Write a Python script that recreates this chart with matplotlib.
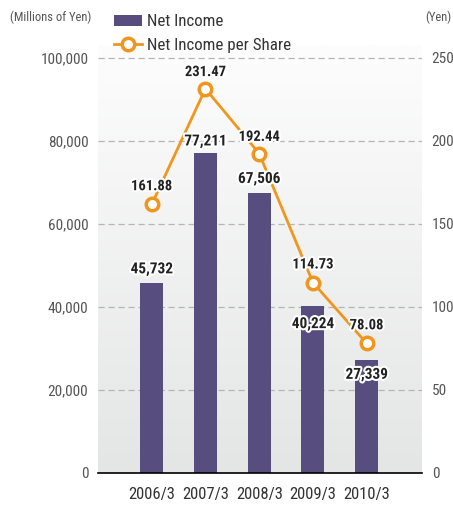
import numpy as np
import matplotlib.pyplot as plt
import matplotlib.patheffects as pe
from matplotlib.lines import Line2D
from matplotlib.patches import Patch
from matplotlib.colors import LinearSegmentedColormap

plt.rcParams['font.family'] = ['Roboto Condensed', 'Archivo Narrow', 'DejaVu Sans']

# ---------- DATA ----------
years = ["2006/3", "2007/3", "2008/3", "2009/3", "2010/3"]
net_income = [45732, 77211, 67506, 40224, 27339]          # millions of yen
eps = [161.88, 231.47, 192.44, 114.73, 78.08]               # yen

BAR_COLOR = "#574e7f"
LINE_COLOR = "#f0961e"
TEXT_COLOR = "#555555"

# label offsets in points (positive = above)
bar_label_dy = [10, 8, 10, -13, -11]
eps_label_dy = [13, 12, 12, 13, 13]

fig = plt.figure(figsize=(4.53, 5.07), dpi=100)
ax = fig.add_axes([98 / 453, 34 / 507, 324 / 453, 428 / 507])

y_top = 100000 * 428 / 415
ax.set_xlim(-1.0, 5.03)
ax.set_ylim(0, y_top)

# soft vertical gradient behind the bars
grad = np.linspace(0, 1, 256).reshape(-1, 1)
cmap = LinearSegmentedColormap.from_list("bg", ["#e4e5e5", "#fdfdfd"])
ax.imshow(grad, aspect="auto", cmap=cmap, origin="lower",
          extent=(-1.0, 5.03, 0, y_top), zorder=0)

x = np.arange(len(years))
ax.bar(x, net_income, width=0.43, color=BAR_COLOR, zorder=2)

for v in range(20000, 100001, 20000):
    ax.axhline(v, color="#b5b5b5", lw=0.9, ls=(0, (5, 3)), zorder=1)

for s in ["top", "left", "right"]:
    ax.spines[s].set_visible(False)
ax.spines["bottom"].set_linewidth(1.2)
ax.spines["bottom"].set_zorder(5)

ax.set_xticks(x)
ax.set_xticklabels(years, fontsize=12, color="#333333")
ax.set_yticks(range(0, 100001, 20000))
ax.set_yticklabels([f"{v:,}" for v in range(0, 100001, 20000)],
                   fontsize=11, color=TEXT_COLOR)
ax.tick_params(axis="both", length=0)
ax.tick_params(axis="y", pad=7)
ax.tick_params(axis="x", pad=10)

ax2 = ax.twinx()
ax2.set_ylim(0, 250 * 428 / 415)
for s in ["top", "left", "right", "bottom"]:
    ax2.spines[s].set_visible(False)
ax2.set_yticks(range(0, 251, 50))
ax2.set_yticklabels([str(v) for v in range(0, 251, 50)],
                    fontsize=11, color=TEXT_COLOR)
ax2.tick_params(axis="y", length=0, pad=7)

ax2.plot(x, eps, color=LINE_COLOR, lw=2, marker="o", ms=9,
         mfc="white", mec=LINE_COLOR, mew=2.5, zorder=4)

stroke = [pe.withStroke(linewidth=3, foreground="white")]
for xi, v, dy in zip(x, net_income, bar_label_dy):
    ax2.annotate(f"{v:,}", (xi, v * 250 / 100000), xytext=(0, dy),
                 textcoords="offset points", ha="center", va="center",
                 fontsize=11, fontweight="bold", color="#222222",
                 path_effects=stroke, zorder=6)
for xi, v, dy in zip(x, eps, eps_label_dy):
    ax2.annotate(f"{v:.2f}", (xi, v), xytext=(0, dy),
                 textcoords="offset points", ha="center", va="center",
                 fontsize=10.5, fontweight="bold", color="#222222",
                 path_effects=stroke, zorder=6)

fig.text(10 / 453, 1 - 17 / 507, "(Millions of Yen)", fontsize=9,
         color=TEXT_COLOR, va="center", ha="left")
fig.text(451 / 453, 1 - 17 / 507, "(Yen)", fontsize=9,
         color=TEXT_COLOR, va="center", ha="right")

handles = [Patch(facecolor=BAR_COLOR),
           Line2D([0], [0], color=LINE_COLOR, lw=2, marker="o", ms=9,
                  mfc="white", mec=LINE_COLOR, mew=2.5)]
fig.legend(handles, ["Net Income", "Net Income per Share"],
           loc="upper left", bbox_to_anchor=(106 / 453, 1 - 6 / 507),
           frameon=False, fontsize=12.2, handlelength=1.6,
           handletextpad=0.3, labelspacing=0.5, borderpad=0,
           labelcolor="#333333")

fig.savefig("out.png", dpi=100)
